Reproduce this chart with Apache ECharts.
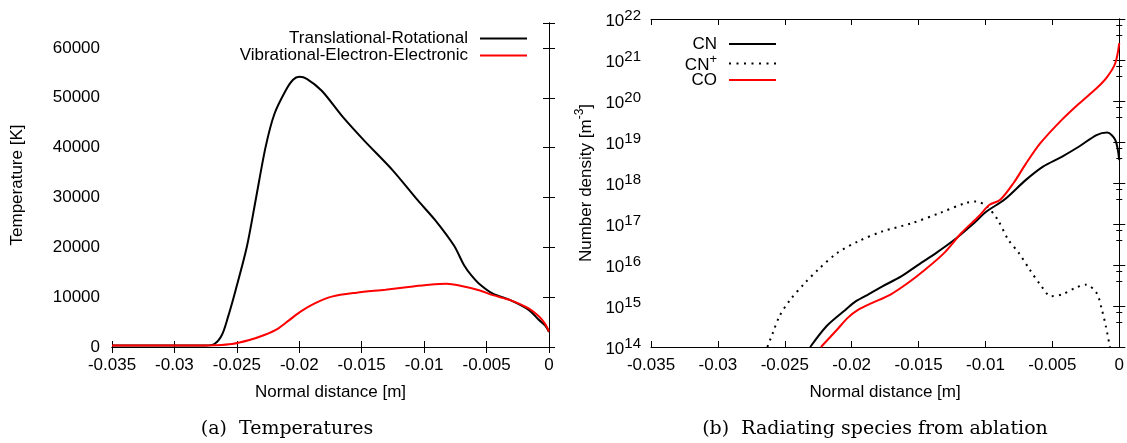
<!DOCTYPE html>
<html>
<head>
<meta charset="utf-8">
<title>Temperatures / radiating species</title>
<script src="https://cdn.jsdelivr.net/npm/echarts@6/dist/echarts.min.js"></script>
<style>
  html, body { margin: 0; padding: 0; background: #fff; }
  #main { width: 1127px; height: 443px; }
</style>
</head>
<body>
<div id="main"></div>
<script>
// (a) temperatures [K] against normal distance [m]
var trX = [-0.035, -0.030, -0.0275, -0.0268, -0.0262, -0.0257, -0.0251, -0.0242, -0.0235, -0.0227, -0.0220, -0.0211, -0.0205, -0.0200, -0.0194, -0.0182, -0.0165, -0.0148, -0.0125, -0.0105, -0.0091, -0.0076, -0.0068, -0.0062, -0.0056, -0.0045, -0.0031, -0.0016, -0.0008, -0.0003, 0];
var trY = [300, 300, 300, 600, 2400, 6100, 11400, 20100, 29400, 40100, 46700, 51400, 53600, 54200, 53800, 51400, 46100, 41400, 35400, 29400, 25400, 20300, 16400, 14300, 12700, 10700, 9400, 7400, 5400, 4300, 3000];
var veX = [-0.035, -0.028, -0.0268, -0.0254, -0.0240, -0.0228, -0.0217, -0.0208, -0.0199, -0.0188, -0.0174, -0.0154, -0.0131, -0.0111, -0.0096, -0.0082, -0.0071, -0.0056, -0.0045, -0.0031, -0.0016, -0.0008, -0.0003, 0];
var veY = [300, 300, 350, 600, 1400, 2400, 3700, 5400, 7100, 8700, 10100, 10900, 11500, 12100, 12500, 12700, 12300, 11400, 10400, 9400, 7700, 6100, 4600, 3100];

// (b) number density, stored as log10 of m^-3
var cnX = [-0.0231, -0.0219, -0.0206, -0.0198, -0.0190, -0.0177, -0.0163, -0.0150, -0.0137, -0.0123, -0.0110, -0.0099, -0.0086, -0.0070, -0.0057, -0.0043, -0.0030, -0.0017, -0.0009, -0.0003, 0];
var cnE = [14.0, 14.50, 14.87, 15.09, 15.24, 15.48, 15.72, 16.01, 16.29, 16.62, 16.98, 17.31, 17.59, 18.07, 18.40, 18.64, 18.89, 19.17, 19.23, 19.05, 18.56];
var cnpX = [-0.0263, -0.0259, -0.0254, -0.0246, -0.0235, -0.0225, -0.0211, -0.0195, -0.0177, -0.0155, -0.0134, -0.0115, -0.0107, -0.0099, -0.0091, -0.0083, -0.0075, -0.0067, -0.0059, -0.0051, -0.0043, -0.0033, -0.0025, -0.0017, -0.0013, -0.0010, -0.0007];
var cnpE = [14.0, 14.34, 14.75, 15.15, 15.56, 15.89, 16.29, 16.58, 16.82, 17.02, 17.27, 17.51, 17.55, 17.43, 17.11, 16.62, 16.29, 15.89, 15.52, 15.24, 15.28, 15.44, 15.52, 15.32, 14.91, 14.50, 14.0];
var coX = [-0.0223, -0.0211, -0.0203, -0.0195, -0.0185, -0.0171, -0.0158, -0.0145, -0.0131, -0.0118, -0.0105, -0.0097, -0.0089, -0.0079, -0.0070, -0.0059, -0.0043, -0.0030, -0.0017, -0.0009, -0.0003, 0];
var coE = [14.0, 14.42, 14.71, 14.91, 15.07, 15.28, 15.56, 15.89, 16.29, 16.78, 17.19, 17.47, 17.59, 18.0, 18.46, 18.97, 19.54, 19.94, 20.31, 20.59, 20.92, 21.41];

var captionA = '(a)  Temperatures';
var captionB = '(b)  Radiating species from ablation';

function pairs(xs, ys) {
  return xs.map(function (x, i) { return [x, ys[i]]; });
}
function logPairs(xs, es) {
  return xs.map(function (x, i) { return [x, Math.pow(10, es[i])]; });
}

var font = '"Liberation Sans", Arial, sans-serif';
var lbl = { color: '#000', fontSize: 17, fontFamily: font };

// rich styles for superscripts: a tall invisible spacer (h) makes the line
// box big enough that "top" and "bottom" tokens end up at different heights
function supRich(supSize, lineH) {
  return {
    b: { fontSize: 17, fontFamily: font, color: '#000', lineHeight: 17, verticalAlign: 'bottom' },
    s: { fontSize: supSize, fontFamily: font, color: '#000', lineHeight: 12, verticalAlign: 'top' },
    h: { fontSize: 1, lineHeight: lineH, width: 0 }
  };
}

// legend samples: solid bar and a row of dots, like the gnuplot key
var solidIcon = 'path://M0,0h47v2h-47z';
var dotIcon = 'path://M0,0h2v2h-2z M7.5,0h2v2h-2z M15,0h2v2h-2z M22.5,0h2v2h-2z M30,0h2v2h-2z M37.5,0h2v2h-2z M45,0h2v2h-2z';

function xAx(grid, top) {
  return {
    type: 'value', gridIndex: grid, position: top ? 'top' : 'bottom',
    min: -0.035, max: 0, interval: 0.005,
    axisLine: { lineStyle: { color: '#000', width: 1 } },
    axisTick: { inside: true, length: 6, lineStyle: { color: '#000' } },
    axisLabel: top ? { show: false } : Object.assign({
      margin: 10,
      formatter: function (v) { return String(parseFloat(v.toFixed(3))); }
    }, lbl),
    splitLine: { show: false },
    name: top ? '' : 'Normal distance [m]',
    nameLocation: 'middle', nameGap: 37,
    nameTextStyle: lbl
  };
}

function tempY(right) {
  return {
    type: 'value', gridIndex: 0, position: right ? 'right' : 'left',
    min: 0, max: 65000, interval: 10000,
    axisLine: { show: true, lineStyle: { color: '#000', width: 1 } },
    axisTick: { inside: true, length: 6, lineStyle: { color: '#000' } },
    axisLabel: right ? { show: false } : Object.assign({
      margin: 12,
      formatter: function (v) { return v % 10000 === 0 ? String(v) : ''; }
    }, lbl),
    splitLine: { show: false },
    name: right ? '' : 'Temperature [K]',
    nameLocation: 'middle', nameGap: 86, nameRotate: 90,
    nameTextStyle: lbl
  };
}

function densY(right) {
  return {
    type: 'log', logBase: 10, gridIndex: 1, position: right ? 'right' : 'left',
    min: 1e14, max: 1e22, interval: 1,
    axisLine: { show: true, lineStyle: { color: '#000', width: 1 } },
    axisTick: { inside: true, length: 6, lineStyle: { color: '#000' } },
    minorTick: { show: true, splitNumber: 3, length: 3, lineStyle: { color: '#000' } },
    axisLabel: right ? { show: false } : {
      margin: 10,
      formatter: function (v) {
        return '{b|10}{s|' + Math.round(Math.log10(v)) + '}{h| }';
      },
      rich: supRich(15, 21)
    },
    splitLine: { show: false },
    name: right ? '' : '{b|Number density [m}{s|-3}{b|]}{h| }',
    nameLocation: 'middle', nameGap: 56, nameRotate: 90,
    nameTextStyle: { color: '#000', fontSize: 17, fontFamily: font, rich: supRich(12, 21) }
  };
}

function legend(name, icon, right, top) {
  return {
    data: [{ name: name, icon: icon }], right: right, top: top, orient: 'vertical', align: 'right',
    padding: 0, itemWidth: 47, itemHeight: 2, selectedMode: false,
    textStyle: { color: '#000', fontSize: 17, fontFamily: font, padding: [0, 7, 0, 0], rich: supRich(13, 21) },
    formatter: function (n) { return n === 'CN+' ? '{b|CN}{s|+}{h| }' : n; }
  };
}

var chart = echarts.init(document.getElementById('main'));
chart.setOption({
  animation: false,
  backgroundColor: '#fff',
  grid: [
    { left: 112, right: 578, top: 23, bottom: 96 },
    { left: 651, right: 3, top: 19, bottom: 96 }
  ],
  xAxis: [xAx(0, false), xAx(0, true), xAx(1, false), xAx(1, true)],
  yAxis: [tempY(false), tempY(true), densY(false), densY(true)],
  legend: [
    legend('Translational-Rotational', solidIcon, 600, 30),
    legend('Vibrational-Electron-Electronic', solidIcon, 600, 47),
    legend('CN', solidIcon, 351, 35.5),
    legend('CN+', dotIcon, 351, 53),
    legend('CO', solidIcon, 351, 71.5)
  ],
  series: [
    { name: 'Translational-Rotational', type: 'line', xAxisIndex: 0, yAxisIndex: 0,
      data: pairs(trX, trY), showSymbol: false, symbol: 'none', smooth: 0.3,
      lineStyle: { color: '#000', width: 2 }, itemStyle: { color: '#000' } },
    { name: 'Vibrational-Electron-Electronic', type: 'line', xAxisIndex: 0, yAxisIndex: 0,
      data: pairs(veX, veY), showSymbol: false, symbol: 'none', smooth: 0.3,
      lineStyle: { color: '#ff0000', width: 2 }, itemStyle: { color: '#ff0000' } },
    { name: 'CN', type: 'line', xAxisIndex: 2, yAxisIndex: 2,
      data: logPairs(cnX, cnE), showSymbol: false, symbol: 'none', smooth: 0.3,
      lineStyle: { color: '#000', width: 2 }, itemStyle: { color: '#000' } },
    { name: 'CN+', type: 'line', xAxisIndex: 2, yAxisIndex: 2,
      data: logPairs(cnpX, cnpE), showSymbol: false, symbol: 'none', smooth: 0.3,
      lineStyle: { color: '#000', width: 2, type: [2, 5] }, itemStyle: { color: '#000' } },
    { name: 'CO', type: 'line', xAxisIndex: 2, yAxisIndex: 2,
      data: logPairs(coX, coE), showSymbol: false, symbol: 'none', smooth: 0.3,
      lineStyle: { color: '#ff0000', width: 2 }, itemStyle: { color: '#ff0000' } }
  ],
  graphic: [
    { type: 'text', x: 287, y: 429,
      style: { text: captionA, font: '19px "DejaVu Serif", serif', fill: '#000', textAlign: 'center', textVerticalAlign: 'middle' } },
    { type: 'text', x: 875, y: 429,
      style: { text: captionB, font: '19px "DejaVu Serif", serif', fill: '#000', textAlign: 'center', textVerticalAlign: 'middle' } }
  ]
});
</script>
</body>
</html>
